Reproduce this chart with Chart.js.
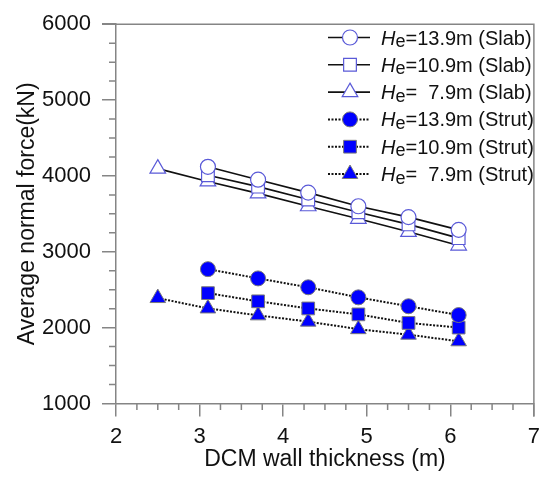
<!DOCTYPE html>
<html>
<head>
<meta charset="utf-8">
<script src="https://cdn.jsdelivr.net/npm/chart.js@4.4.0/dist/chart.umd.min.js"></script>
<style>
html, body { margin: 0; padding: 0; background: #fff; }
</style>
</head>
<body>
<canvas id="chartForce" width="547" height="477"></canvas>
<script>
// x values (m)
const thickness = [3.1, 3.7, 4.3, 4.9, 5.5, 6.1]
const thicknessLong = [2.5, 3.1, 3.7, 4.3, 4.9, 5.5, 6.1]

// average normal force (kN)
const slab139 = [4120, 3950, 3780, 3600, 3457, 3289]
const slab109 = [4010, 3859, 3688, 3522, 3361, 3180]
const slab79 = [4096, 3927, 3770, 3600, 3435, 3263, 3082]
const strut139 = [2771, 2649, 2532, 2399, 2282, 2166]
const strut109 = [2455, 2347, 2253, 2175, 2062, 2001]
const strut79 = [2390, 2253, 2162, 2079, 1980, 1907, 1820]

const legendLabels = ["=13.9m (Slab)", "=10.9m (Slab)", "=  7.9m (Slab)",
    "=13.9m (Strut)", "=10.9m (Strut)", "=  7.9m (Strut)"]

const xTicks = [2, 3, 4, 5, 6, 7]
const yTicks = [1000, 2000, 3000, 4000, 5000, 6000]

const FONT = "'Liberation Sans', Arial, sans-serif"
const AXIS_GRAY = "#858585"
const OPEN_BLUE = "#5a5ad8"
const FILL_BLUE = "#0000ff"

Chart.defaults.font.family = FONT
Chart.defaults.color = "#111"

const toPoints = (xs, ys) => xs.map((x, i) => ({ x, y: ys[i] }))

const slabStyle = (pointStyle, radius) => ({
    showLine: true,
    borderColor: "#111",
    borderWidth: 1.6,
    pointStyle,
    pointRadius: radius,
    pointBackgroundColor: "#fff",
    pointBorderColor: OPEN_BLUE,
    pointBorderWidth: 1.2
})

const strutStyle = (pointStyle, radius) => ({
    showLine: true,
    borderColor: "#111",
    borderWidth: 2,
    borderDash: [2, 1.5],
    pointStyle,
    pointRadius: radius,
    pointBackgroundColor: FILL_BLUE,
    pointBorderColor: "#7a7a7a",
    pointBorderWidth: 1
})

const datasets = [
    { data: toPoints(thickness, slab139), ...slabStyle("circle", 7.5) },
    { data: toPoints(thickness, slab109), ...slabStyle("rect", 9) },
    { data: toPoints(thicknessLong, slab79), ...slabStyle("triangle", 9) },
    { data: toPoints(thickness, strut139), ...strutStyle("circle", 7.5) },
    { data: toPoints(thickness, strut109), ...strutStyle("rect", 9) },
    { data: toPoints(thicknessLong, strut79), ...strutStyle("triangle", 9) }
]

//#region plugins
const frameAndMinorTicks = {
    id: "frameAndMinorTicks",
    beforeDatasetsDraw: chart => {
        const { ctx, chartArea: a, scales } = chart
        ctx.save()
        ctx.strokeStyle = AXIS_GRAY
        ctx.lineWidth = 1.5
        ctx.beginPath()
        ctx.moveTo(a.left - 14, a.top)
        ctx.lineTo(a.right, a.top)
        ctx.lineTo(a.right, a.bottom + 13)
        for (let v = 1250; v < 6000; v += 250) {
            if (v % 1000 === 0) continue
            const py = scales.y.getPixelForValue(v)
            ctx.moveTo(a.left - 7, py)
            ctx.lineTo(a.left, py)
        }
        for (let v = 2.25; v < 7; v += 0.25) {
            if (Math.abs(v - Math.round(v)) < 0.01) continue
            const px = scales.x.getPixelForValue(v)
            ctx.moveTo(px, a.bottom)
            ctx.lineTo(px, a.bottom + 6.5)
        }
        ctx.stroke()
        ctx.restore()
    }
}

const customLegend = {
    id: "customLegend",
    afterDraw: chart => {
        const { ctx } = chart
        const lineX0 = 328, lineX1 = 370, markX = 350, textX = 381
        const rowY0 = 37.5, rowGap = 27.3
        ctx.save()
        datasets.forEach((ds, i) => {
            const y = rowY0 + i * rowGap
            ctx.strokeStyle = "#111"
            ctx.lineWidth = ds.borderWidth
            ctx.setLineDash(ds.borderDash || [])
            ctx.beginPath()
            ctx.moveTo(lineX0, y)
            ctx.lineTo(lineX1, y)
            ctx.stroke()
            ctx.setLineDash([])
            ctx.fillStyle = ds.pointBackgroundColor
            ctx.strokeStyle = ds.pointBorderColor
            ctx.lineWidth = ds.pointBorderWidth
            Chart.helpers.drawPoint(ctx, {
                pointStyle: ds.pointStyle,
                radius: ds.pointRadius,
                rotation: 0,
                borderWidth: ds.pointBorderWidth
            }, markX, y)

            ctx.fillStyle = "#111"
            ctx.textBaseline = "alphabetic"
            ctx.textAlign = "left"
            const base = y + 7
            ctx.font = `italic 20px ${FONT}`
            ctx.fillText("H", textX, base)
            let x = textX + ctx.measureText("H").width
            ctx.font = `18px ${FONT}`
            ctx.fillText("e", x, base + 2.5)
            x += ctx.measureText("e").width
            ctx.font = `20px ${FONT}`
            ctx.fillText(legendLabels[i], x, base)
        })
        ctx.restore()
    }
}
//#endregion

new Chart(document.getElementById("chartForce"), {
    type: "scatter",
    data: { datasets },
    options: {
        responsive: false,
        animation: false,
        layout: { padding: { top: 18, right: 11, left: 0, bottom: 0 } },
        plugins: {
            legend: { display: false },
            tooltip: { enabled: false }
        },
        scales: {
            x: {
                type: "linear",
                min: 2,
                max: 7,
                afterFit: scale => { scale.height = 73.5 },
                afterBuildTicks: scale => { scale.ticks = xTicks.map(value => ({ value })) },
                border: { display: true, color: AXIS_GRAY, width: 1.5 },
                grid: { drawOnChartArea: false, drawTicks: true, tickLength: 13, color: AXIS_GRAY, lineWidth: 1.5 },
                ticks: { font: { size: 22 }, padding: 7, maxRotation: 0, color: "#111", callback: value => String(value) },
                title: { display: true, text: "DCM wall thickness (m)", font: { size: 23 }, color: "#111", padding: { top: 0, bottom: 4 } }
            },
            y: {
                type: "linear",
                min: 1000,
                max: 6000,
                afterFit: scale => { scale.width = 116 },
                afterBuildTicks: scale => { scale.ticks = yTicks.map(value => ({ value })) },
                border: { display: true, color: AXIS_GRAY, width: 1.5 },
                grid: { drawOnChartArea: false, drawTicks: true, tickLength: 14, color: AXIS_GRAY, lineWidth: 1.5 },
                ticks: { font: { size: 22 }, padding: 11, color: "#111", callback: value => String(value) },
                title: { display: true, text: "Average normal force(kN)", font: { size: 23 }, color: "#111", padding: { top: 14, bottom: 0 } }
            }
        }
    },
    plugins: [frameAndMinorTicks, customLegend]
})
</script>
</body>
</html>
